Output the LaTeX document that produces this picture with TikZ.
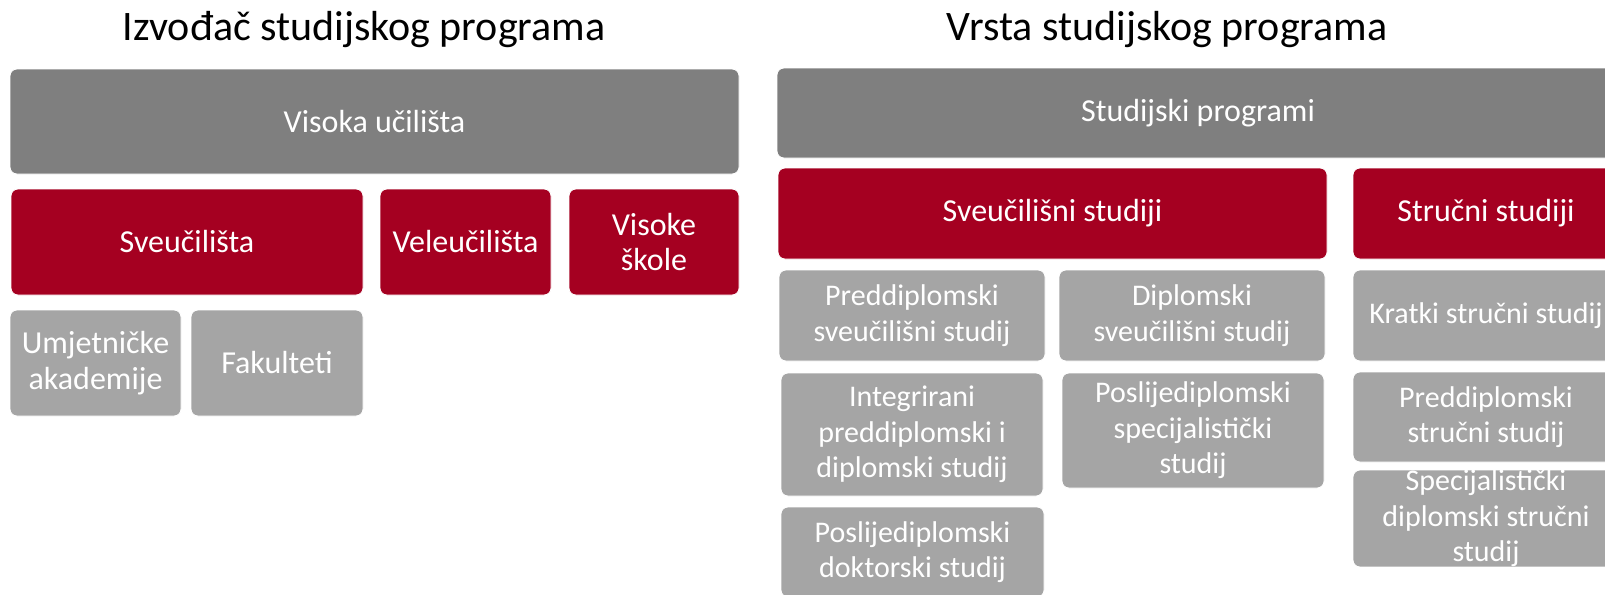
\documentclass[tikz,border=0pt]{standalone}
\usepackage{fontspec}
\setmainfont{Carlito}
\definecolor{dgray}{HTML}{7F7F7F}
\definecolor{lgray}{HTML}{A5A5A5}
\definecolor{cred}{HTML}{A50021}
\tikzset{
  box/.style={rounded corners=7pt, draw=white, line width=0.8pt, inner sep=0pt, text=white, align=center},
  topbox/.style={box, fill=dgray, font=\fontsize{32}{35.5}\selectfont},
  redbox/.style={box, fill=cred, font=\fontsize{32}{35.5}\selectfont},
  lbox/.style={box, fill=lgray, font=\fontsize{32}{35.5}\selectfont},
  rtopbox/.style={box, fill=dgray, font=\fontsize{32}{35}\selectfont},
  rredbox/.style={box, fill=cred, font=\fontsize{32}{35}\selectfont},
  rbox/.style={box, fill=lgray, font=\fontsize{30}{35.5}\selectfont},
  ttl/.style={inner sep=0pt, anchor=base, font=\fontsize{42}{48}\selectfont, text=black}
}
\begin{document}
\begin{tikzpicture}[x=1pt, y=-1pt]
\useasboundingbox (0,0) rectangle (1605,594);
\clip (0,0) rectangle (1605,594);
% left
\node[ttl] (t1) at (364,41) {Izvođač studijskog programa};
\node[topbox, minimum width=729pt, minimum height=105pt] (vu) at (374.5,121.5) {Visoka učilišta};
\node[redbox, minimum width=352pt, minimum height=106pt] (sv) at (187,242) {Sveučilišta};
\node[redbox, minimum width=171pt, minimum height=106pt] (ve) at (465.5,242) {Veleučilišta};
\node[redbox, minimum width=170pt, minimum height=106pt] (vs) at (654,242) {Visoke\\škole};
\node[lbox, minimum width=171pt, minimum height=106pt] (ua) at (95.5,363) {Umjetničke\\akademije};
\node[lbox, minimum width=172pt, minimum height=106pt] (fa) at (277,363) {Fakulteti};
% right
\node[ttl] (t2) at (1167,41) {Vrsta studijskog programa};
\node[rtopbox, minimum width=842pt, minimum height=90pt] (sp) at (1198,113) {Studijski programi};
\node[rredbox, minimum width=549pt, minimum height=91pt] (svs) at (1052.5,213.5) {Sveučilišni studiji};
\node[rredbox, minimum width=266pt, minimum height=91pt] (sts) at (1486,213.5) {Stručni studiji};
\node[rbox, minimum width=266pt, minimum height=91pt] (pss) at (912,315.5) {Preddiplomski\\sveučilišni studij};
\node[rbox, minimum width=266pt, minimum height=91pt] (dss) at (1192,315.5) {Diplomski\\sveučilišni studij};
\node[rbox, minimum width=266pt, minimum height=91pt] (kss) at (1486,315.5) {Kratki stručni studij};
\node[rbox, minimum width=262pt, minimum height=123pt] (int) at (912,434.5) {Integrirani\\preddiplomski i\\diplomski studij};
\node[rbox, minimum width=262pt, minimum height=115pt] (psp) at (1193,430.5) {Poslijediplomski\\specijalistički\\studij};
\node[rbox, minimum width=266pt, minimum height=90pt] (pst) at (1486,417) {Preddiplomski\\stručni studij};
\node[rbox, minimum width=266pt, minimum height=91pt] (spe) at (1486,518.5) {Specijalistički\\diplomski stručni\\studij};
\node[rbox, minimum width=263pt, minimum height=90pt] (pdo) at (912.5,552) {Poslijediplomski\\doktorski studij};
\end{tikzpicture}
\end{document}
